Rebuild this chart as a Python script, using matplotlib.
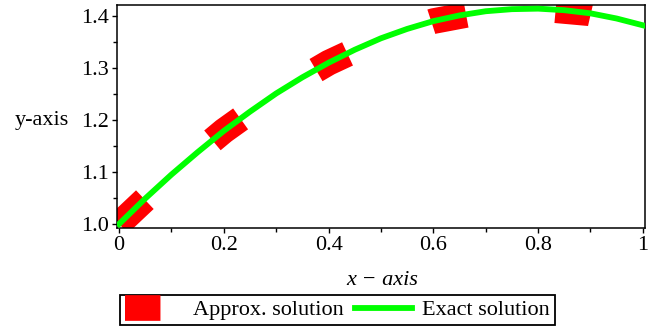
import matplotlib
matplotlib.use("Agg")
import matplotlib.pyplot as plt
from matplotlib.ticker import MultipleLocator

# exact solution
x_exact = [0.0, 0.05, 0.1, 0.15, 0.2, 0.25, 0.3, 0.35, 0.4, 0.45, 0.5,
           0.55, 0.6, 0.65, 0.7, 0.75, 0.8, 0.85, 0.9, 0.95, 1.0]
y_exact = [1.000, 1.049, 1.095, 1.138, 1.179, 1.216, 1.251, 1.282, 1.310, 1.335, 1.357,
           1.375, 1.390, 1.401, 1.409, 1.413, 1.414, 1.411, 1.405, 1.395, 1.382]

# approximate solution (red dashed)
x_approx = [0.0, 0.1, 0.2, 0.3, 0.4, 0.5, 0.6, 0.7, 0.8, 0.9, 1.0]
y_approx = [1.000, 1.095, 1.179, 1.251, 1.310, 1.357, 1.390, 1.409, 1.414, 1.405, 1.382]

x_ticks = [0, 0.2, 0.4, 0.6, 0.8, 1]
x_ticklabels = ["0", "0.2", "0.4", "0.6", "0.8", "1"]
y_ticks = [1.0, 1.1, 1.2, 1.3, 1.4]

plt.rcParams['font.family'] = ['Liberation Serif', 'DejaVu Serif']
plt.rcParams['font.size'] = 16

fig = plt.figure(figsize=(6.52, 3.31), dpi=100)
ax = fig.add_axes([0.1794, 0.3112, 0.8098, 0.6737])

approx_line, = ax.plot(x_approx, y_approx, color='red', linewidth=18.5,
                       dashes=(1.38, 3.5), solid_capstyle='butt',
                       dash_capstyle='butt', label='Approx. solution', zorder=2)
exact_line, = ax.plot(x_exact, y_exact, color='#00ff00', linewidth=4.2,
                      label='Exact solution', zorder=3)

ax.set_xlim(-0.004, 1.004)
ax.set_ylim(0.9923, 1.421)
ax.set_xticks(x_ticks)
ax.set_xticklabels(x_ticklabels)
ax.set_yticks(y_ticks)
ax.set_yticklabels([f"{v:.1f}" for v in y_ticks])
ax.xaxis.set_minor_locator(MultipleLocator(0.1))
ax.yaxis.set_minor_locator(MultipleLocator(0.05))
ax.tick_params(which='major', direction='out', length=3.5, width=1, pad=2, labelsize=16)
ax.tick_params(which='minor', direction='out', length=3, width=1)
for sp in ax.spines.values():
    sp.set_linewidth(1.1)

ax.set_xlabel("x \u2212 axis", fontstyle='italic', fontsize=16)
ax.xaxis.set_label_coords(0.502, -0.195)
ax.set_ylabel("y-axis", rotation=0, ha='center', va='center', fontsize=16)
ax.yaxis.set_label_coords(-0.142, 0.484)

leg = fig.legend(handles=[approx_line, exact_line], loc='center',
                 bbox_to_anchor=(0.5176, 0.0634), ncol=2, fontsize=16,
                 handlelength=2.6, handletextpad=0.45, columnspacing=0.5,
                 borderpad=0.2, fancybox=False, framealpha=1)
leg.get_frame().set_edgecolor('black')
leg.get_frame().set_linewidth(1.3)

fig.savefig("out.png", dpi=100)
